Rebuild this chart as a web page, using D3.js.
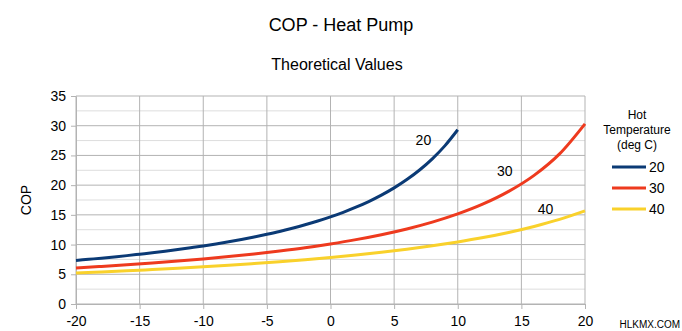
<!DOCTYPE html>
<html>
<head>
    <meta charset="utf-8">
    <script src="https://cdn.jsdelivr.net/npm/d3@7"></script>
</head>

<style>
    body { margin: 0; background: white; }
    text { font-family: "Liberation Sans", Arial, sans-serif; fill: black; }
    .axis path, .axis line { stroke: #b3b3b3; }
    .axis text { font-size: 14px; }
</style>

<body>
<div id="chart"></div>

<script>

    // cold side temperature (deg C), one list per hot temperature series
    var coldTemps20 = [-20, -19, -18, -17, -16, -15, -14, -13, -12, -11, -10, -9, -8, -7, -6, -5, -4, -3, -2, -1, 0, 1, 2, 3, 4, 5, 6, 7, 8, 9, 10];
    var cop20 = [7.33, 7.52, 7.71, 7.92, 8.14, 8.38, 8.62, 8.88, 9.16, 9.46, 9.77, 10.11, 10.47, 10.86, 11.28, 11.73, 12.21, 12.75, 13.33, 13.96, 14.66, 15.43, 16.29, 17.24, 18.32, 19.54, 20.94, 22.55, 24.43, 26.65, 29.32];

    var coldTemps = [-20, -18, -16, -14, -12, -10, -8, -6, -4, -2, 0, 2, 4, 6, 8, 10, 12, 14, 16, 18, 20];
    var cop30 = [6.06, 6.32, 6.59, 6.89, 7.22, 7.58, 7.98, 8.42, 8.92, 9.47, 10.11, 10.83, 11.66, 12.63, 13.78, 15.16, 16.84, 18.95, 21.65, 25.26, 30.32];
    var cop40 = [5.22, 5.40, 5.59, 5.80, 6.02, 6.26, 6.52, 6.81, 7.12, 7.46, 7.83, 8.24, 8.70, 9.21, 9.79, 10.44, 11.18, 12.04, 13.05, 14.23, 15.66];

    var seriesNames = ['20', '30', '40'];
    var seriesColors = ['#0b3a75', '#ee3a1e', '#f9d12b'];
    var xTicks = [-20, -15, -10, -5, 0, 5, 10, 15, 20];
    var yTicks = [0, 5, 10, 15, 20, 25, 30, 35];
    var yMinorTicks = [2.5, 7.5, 12.5, 17.5, 22.5, 27.5, 32.5];

    var series = [
        { name: seriesNames[0], x: coldTemps20, y: cop20, color: seriesColors[0], label: [7.3, 26.8] },
        { name: seriesNames[1], x: coldTemps, y: cop30, color: seriesColors[1], label: [13.7, 21.5] },
        { name: seriesNames[2], x: coldTemps, y: cop40, color: seriesColors[2], label: [16.9, 15.1] }
    ];

    var totalWidth = 682, totalHeight = 331;
    var padding = { top: 96, right: 97, bottom: 27, left: 76 };
    var width = totalWidth - padding.left - padding.right;
    var height = totalHeight - padding.top - padding.bottom;

    var xScale = d3.scaleLinear()
        .domain([-20, 20])
        .range([0, width]);

    var yScale = d3.scaleLinear()
        .domain([0, 35])
        .range([height, 0]);

    var svg = d3.select('#chart').append('svg')
        .attr('width', totalWidth)
        .attr('height', totalHeight);

    svg.append('text')
        .attr('x', 341)
        .attr('y', 31)
        .attr('text-anchor', 'middle')
        .style('font-size', '18px')
        .text('COP - Heat Pump');

    svg.append('text')
        .attr('x', 337)
        .attr('y', 70)
        .attr('text-anchor', 'middle')
        .style('font-size', '16px')
        .text('Theoretical Values');

    var g = svg.append('g')
        .attr('transform', 'translate(' + padding.left + ', ' + padding.top + ')');

    // minor + major grid
    g.selectAll('line.minor')
        .data(yMinorTicks)
        .enter()
        .append('line')
        .attr('class', 'minor')
        .attr('x1', 0)
        .attr('x2', width)
        .attr('y1', function(d) { return yScale(d); })
        .attr('y2', function(d) { return yScale(d); })
        .attr('stroke', '#dddddd');

    g.selectAll('line.hgrid')
        .data(yTicks)
        .enter()
        .append('line')
        .attr('class', 'hgrid')
        .attr('x1', 0)
        .attr('x2', width)
        .attr('y1', function(d) { return yScale(d); })
        .attr('y2', function(d) { return yScale(d); })
        .attr('stroke', '#b3b3b3');

    g.selectAll('line.vgrid')
        .data(xTicks)
        .enter()
        .append('line')
        .attr('class', 'vgrid')
        .attr('y1', 0)
        .attr('y2', height)
        .attr('x1', function(d) { return xScale(d); })
        .attr('x2', function(d) { return xScale(d); })
        .attr('stroke', '#b3b3b3');

    g.append('g')
        .attr('class', 'axis')
        .call(d3.axisLeft(yScale).tickValues(yTicks).tickSize(5).tickPadding(5).tickSizeOuter(0));

    g.append('g')
        .attr('class', 'axis')
        .attr('transform', 'translate(0,' + height + ')')
        .call(d3.axisBottom(xScale).tickValues(xTicks).tickSize(5).tickPadding(7).tickSizeOuter(0)
            .tickFormat(function(d) { return String(d); }));

    svg.append('text')
        .attr('transform', 'translate(31,' + (padding.top + height / 2) + ') rotate(-90)')
        .attr('text-anchor', 'middle')
        .style('font-size', '14px')
        .text('COP');

    var line = d3.line()
        .x(function(d) { return xScale(d[0]); })
        .y(function(d) { return yScale(d[1]); })
        .curve(d3.curveMonotoneX);

    g.selectAll('path.series')
        .data(series)
        .enter()
        .append('path')
        .attr('class', 'series')
        .attr('fill', 'none')
        .attr('stroke', function(d) { return d.color; })
        .attr('stroke-width', 3)
        .attr('d', function(d) { return line(d3.zip(d.x, d.y)); });

    g.selectAll('text.serieslabel')
        .data(series)
        .enter()
        .append('text')
        .attr('class', 'serieslabel')
        .attr('x', function(d) { return xScale(d.label[0]); })
        .attr('y', function(d) { return yScale(d.label[1]); })
        .attr('text-anchor', 'middle')
        .style('font-size', '14px')
        .text(function(d) { return d.name; });

    // legend
    var legend = svg.append('g');

    legend.selectAll('text.title')
        .data(['Hot', 'Temperature', '(deg C)'])
        .enter()
        .append('text')
        .attr('class', 'title')
        .attr('x', 637)
        .attr('y', function(d, i) { return 119 + i * 15; })
        .attr('text-anchor', 'middle')
        .style('font-size', '12px')
        .text(function(d) { return d; });

    var items = legend.selectAll('g.item')
        .data(series)
        .enter()
        .append('g')
        .attr('class', 'item')
        .attr('transform', function(d, i) { return 'translate(612,' + (167 + i * 21) + ')'; });

    items.append('line')
        .attr('x1', 0)
        .attr('x2', 34)
        .attr('stroke', function(d) { return d.color; })
        .attr('stroke-width', 3);

    items.append('text')
        .attr('x', 37)
        .attr('y', 5)
        .style('font-size', '14px')
        .text(function(d) { return d.name; });

    svg.append('text')
        .attr('x', 680)
        .attr('y', 328)
        .attr('text-anchor', 'end')
        .style('font-size', '10px')
        .text('HLKMX.COM');

</script>
</body>
</html>
